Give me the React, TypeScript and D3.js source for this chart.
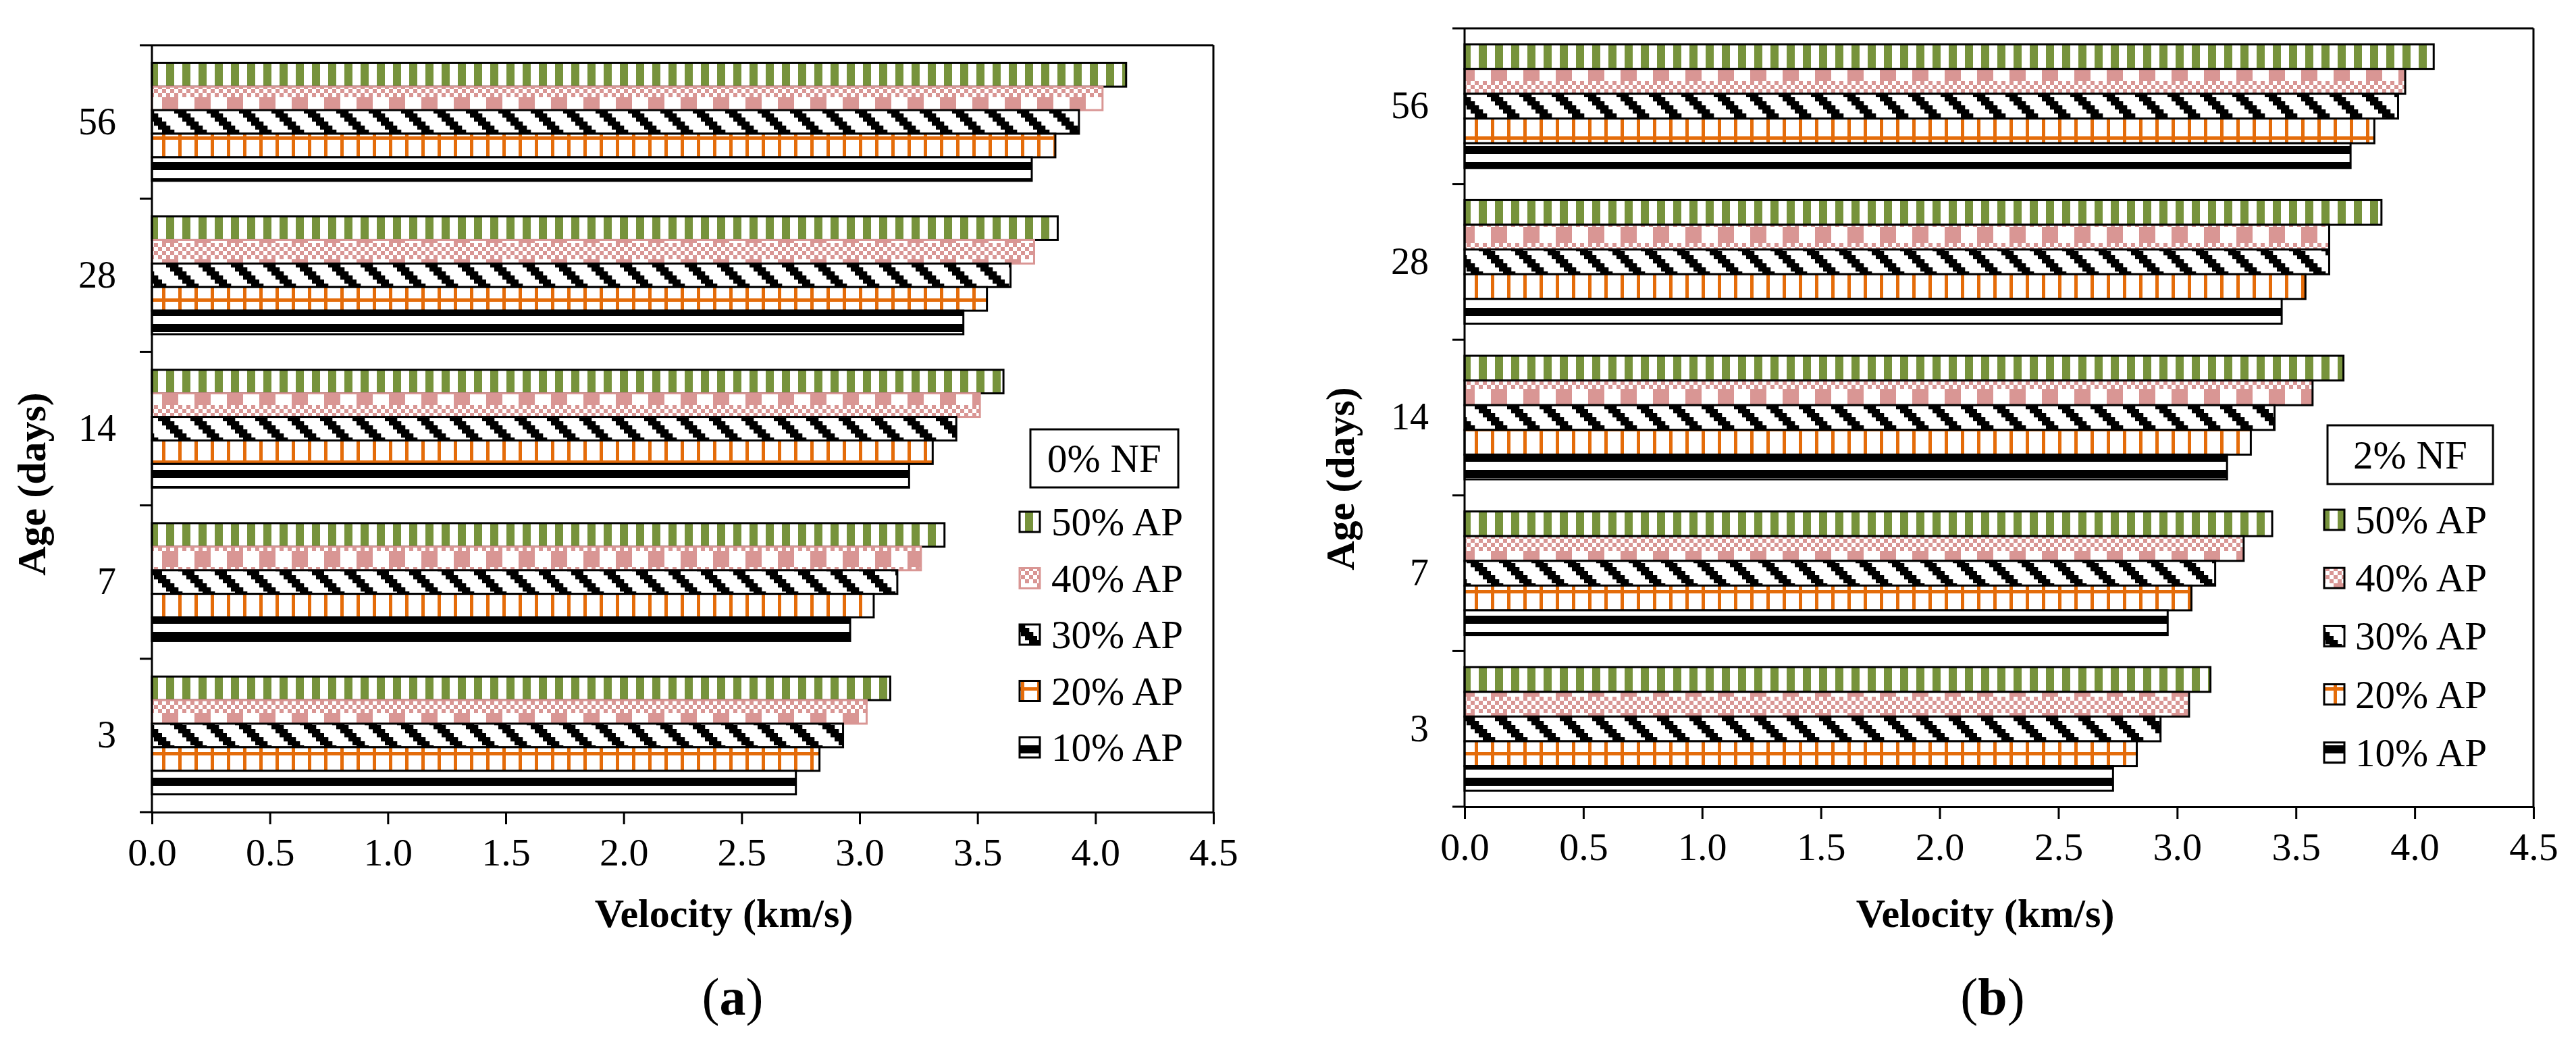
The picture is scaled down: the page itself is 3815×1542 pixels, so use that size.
import { useEffect, useRef } from "react"
import * as d3 from "d3"

// categories (top to bottom) and series (top to bottom inside a group)
const ages = ["56", "28", "14", "7", "3"]
const series = ["50% AP", "40% AP", "30% AP", "20% AP", "10% AP"]
const velocityTicks = [0, 0.5, 1, 1.5, 2, 2.5, 3, 3.5, 4, 4.5]

// (a) 0% NF, velocities in km/s for ages 56, 28, 14, 7, 3
const nf0Ap50 = [4.13, 3.84, 3.61, 3.36, 3.13]
const nf0Ap40 = [4.03, 3.74, 3.51, 3.26, 3.03]
const nf0Ap30 = [3.93, 3.64, 3.41, 3.16, 2.93]
const nf0Ap20 = [3.83, 3.54, 3.31, 3.06, 2.83]
const nf0Ap10 = [3.73, 3.44, 3.21, 2.96, 2.73]

// (b) 2% NF
const nf2Ap50 = [4.08, 3.86, 3.7, 3.4, 3.14]
const nf2Ap40 = [3.96, 3.64, 3.57, 3.28, 3.05]
const nf2Ap30 = [3.93, 3.64, 3.41, 3.16, 2.93]
const nf2Ap20 = [3.83, 3.54, 3.31, 3.06, 2.83]
const nf2Ap10 = [3.73, 3.44, 3.21, 2.96, 2.73]

const GREEN = "#77933C"
const PINK = "#D99694"
const ORANGE = "#E46C0A"
const FONT = '"Liberation Serif", "Times New Roman", serif'

const panels = [
  {
    id: "a",
    nf: "0% NF",
    caption: "a",
    values: [nf0Ap50, nf0Ap40, nf0Ap30, nf0Ap20, nf0Ap10],
    left: 225, right: 1797, top: 67, bottom: 1203,
    outer: 0.755,
    pinkStroke: PINK,
    yTitle: { x: 67, y: 717 },
    xTitleX: 1072,
    captionX: 1085,
    box: { x: 1526, y: 636, w: 219, h: 86 },
    swatchX: 1510, textX: 1557, legendY: 773, legendStep: 83.5,
  },
  {
    id: "b",
    nf: "2% NF",
    caption: "b",
    values: [nf2Ap50, nf2Ap40, nf2Ap30, nf2Ap20, nf2Ap10],
    left: 2169, right: 3752, top: 42, bottom: 1195,
    outer: 0.65,
    pinkStroke: "#000",
    yTitle: { x: 2005, y: 709 },
    xTitleX: 2940,
    captionX: 2951,
    box: { x: 3447, y: 630, w: 245, h: 87 },
    swatchX: 3442, textX: 3488, legendY: 770, legendStep: 86.2,
  },
]

const pinkCells = [
  "XXXX....",
  "XXXX....",
  "XXXX....",
  "XXXX....",
  "X.X.X.X.",
  ".X.X.X.X",
  "X.X.X.X.",
  ".X.X.X.X",
]

function makePatterns(defs: any, id: string) {
  const pat = (name: string, w: number, h: number) => {
    const p = defs
      .append("pattern")
      .attr("id", `${id}-${name}`)
      .attr("patternUnits", "userSpaceOnUse")
      .attr("width", w)
      .attr("height", h)
    p.append("rect").attr("width", w).attr("height", h).attr("fill", "#fff")
    return p
  }

  // 50% AP: wide vertical stripes
  const g = pat("g", 24, 24)
  g.append("rect").attr("x", 6).attr("width", 12).attr("height", 24).attr("fill", GREEN)

  // 40% AP: blocks + checker
  const pk = pat("pk", 48, 48)
  pinkCells.forEach((row, r) => {
    row.split("").forEach((c, k) => {
      if (c === "X") pk.append("rect").attr("x", k * 6).attr("y", r * 6).attr("width", 6).attr("height", 6).attr("fill", PINK)
    })
  })

  // 30% AP: wide downward diagonal
  const h = pat("h", 48, 48)
  for (let r = 0; r < 8; r++) {
    for (let k = 0; k < 3; k++) {
      const c = (r + k) % 8
      h.append("rect").attr("x", c * 6).attr("y", r * 6).attr("width", 6.3).attr("height", 6.3).attr("fill", "#000")
    }
  }

  // 20% AP: grid
  const o = pat("o", 24, 48)
  o.append("rect").attr("x", 0).attr("width", 5).attr("height", 48).attr("fill", ORANGE)
  o.append("rect").attr("y", 10).attr("width", 24).attr("height", 5).attr("fill", ORANGE)

  // 10% AP: wide horizontal stripes
  const b = pat("b", 24, 24)
  b.append("rect").attr("width", 24).attr("height", 12).attr("fill", "#000")

  return ["g", "pk", "h", "o", "b"].map((n) => `url(#${id}-${n})`)
}

function drawPanel(svg: any, defs: any, p: (typeof panels)[number]) {
  const fills = makePatterns(defs, p.id)
  const strokes = ["#000", p.pinkStroke, "#000", "#000", "#000"]

  const x = d3.scaleLinear().domain([0, 4.5]).range([p.left, p.right])
  const y = d3.scaleBand().domain(ages).range([p.top, p.bottom]).paddingInner(0).paddingOuter(0)
  const yInner = d3.scaleBand().domain(series).range([0, y.bandwidth()]).paddingInner(0).paddingOuter(p.outer)

  const g = svg.append("g")

  // frame (top + right)
  g.append("line").attr("x1", p.left).attr("x2", p.right).attr("y1", p.top).attr("y2", p.top)
    .attr("stroke", "#000").attr("stroke-width", 3)
  g.append("line").attr("x1", p.right).attr("x2", p.right).attr("y1", p.top).attr("y2", p.bottom)
    .attr("stroke", "#000").attr("stroke-width", 3)

  // bars
  ages.forEach((age, i) => {
    series.forEach((s, j) => {
      const v = p.values[j][i]
      g.append("rect")
        .attr("x", x(0))
        .attr("y", (y(age) || 0) + (yInner(s) || 0))
        .attr("width", x(v) - x(0))
        .attr("height", yInner.bandwidth())
        .attr("fill", fills[j])
        .attr("stroke", strokes[j])
        .attr("stroke-width", 3)
    })
  })

  // x axis
  const xAxis = g.append("g").attr("transform", `translate(0,${p.bottom})`)
    .call(d3.axisBottom(x).tickValues(velocityTicks).tickFormat(d3.format(".1f")).tickSize(18).tickSizeOuter(0).tickPadding(20))
  xAxis.select(".domain").attr("stroke-width", 3)
  xAxis.selectAll(".tick line").attr("stroke-width", 3)
  xAxis.selectAll(".tick text").attr("font-size", 58).attr("font-family", FONT).attr("fill", "#000")

  // y axis: labels at band centres, ticks at band boundaries
  const yAxis = g.append("g").attr("transform", `translate(${p.left},0)`)
    .call(d3.axisLeft(y).tickSize(0).tickPadding(53))
  yAxis.select(".domain").remove()
  yAxis.selectAll(".tick text").attr("font-size", 56).attr("font-family", FONT).attr("fill", "#000")

  g.append("line").attr("x1", p.left).attr("x2", p.left).attr("y1", p.top).attr("y2", p.bottom)
    .attr("stroke", "#000").attr("stroke-width", 3)
  const bounds = ages.map((a) => y(a) || 0).concat([p.bottom])
  g.selectAll(".ybound").data(bounds).enter().append("line")
    .attr("x1", p.left - 18).attr("x2", p.left).attr("y1", (d: number) => d).attr("y2", (d: number) => d)
    .attr("stroke", "#000").attr("stroke-width", 3)

  // titles
  g.append("text").attr("x", p.xTitleX).attr("y", 1373).attr("text-anchor", "middle")
    .attr("font-family", FONT).attr("font-size", 60).attr("font-weight", "bold").text("Velocity (km/s)")
  g.append("text").attr("transform", `translate(${p.yTitle.x},${p.yTitle.y}) rotate(-90)`).attr("text-anchor", "middle")
    .attr("font-family", FONT).attr("font-size", 60).attr("font-weight", "bold").text("Age (days)")

  const cap = g.append("text").attr("x", p.captionX).attr("y", 1503).attr("text-anchor", "middle")
    .attr("font-family", FONT).attr("font-size", 78)
  cap.append("tspan").text("(")
  cap.append("tspan").attr("font-weight", "bold").text(p.caption)
  cap.append("tspan").text(")")

  // legend
  g.append("rect").attr("x", p.box.x).attr("y", p.box.y).attr("width", p.box.w).attr("height", p.box.h)
    .attr("fill", "#fff").attr("stroke", "#000").attr("stroke-width", 3)
  g.append("text").attr("x", p.box.x + p.box.w / 2).attr("y", p.box.y + p.box.h / 2 + 20).attr("text-anchor", "middle")
    .attr("font-family", FONT).attr("font-size", 59).text(p.nf)

  series.forEach((s, j) => {
    const cy = p.legendY + j * p.legendStep
    g.append("rect").attr("x", p.swatchX).attr("y", cy - 15).attr("width", 30).attr("height", 30)
      .attr("fill", fills[j]).attr("stroke", strokes[j]).attr("stroke-width", 3)
    g.append("text").attr("x", p.textX).attr("y", cy + 20).attr("font-family", FONT).attr("font-size", 59).text(s)
  })
}

export default function App() {
  const svgRef = useRef<SVGSVGElement>(null)

  useEffect(() => {
    if (!svgRef.current) return
    const svg = d3.select(svgRef.current)
    svg.selectAll("*").remove()
    const defs = svg.append("defs")
    panels.forEach((p) => drawPanel(svg, defs, p))
  }, [])

  return (
    <svg
      ref={svgRef}
      width={3815}
      height={1542}
      style={{ position: "absolute", left: 0, top: 0, background: "#fff" }}
    />
  )
}
